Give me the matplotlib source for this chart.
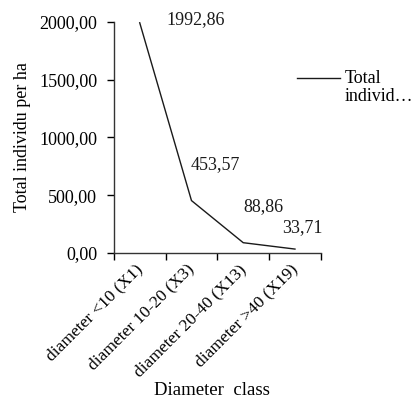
import matplotlib
matplotlib.use("Agg")
import matplotlib.pyplot as plt
from matplotlib.ticker import FixedLocator, NullFormatter
from matplotlib.legend_handler import HandlerLine2D
from matplotlib.transforms import ScaledTranslation

plt.rcParams['font.family'] = ['Liberation Serif', 'DejaVu Serif']

categories = ["diameter <10 (X1)", "diameter 10-20 (X3)", "diameter 20-40 (X13)", "diameter >40 (X19)"]
values = [1992.86, 453.57, 88.86, 33.71]
value_labels = ["1992,86", "453,57", "88,86", "33,71"]
yticks = [0, 500, 1000, 1500, 2000]
ytick_labels = ["0,00", "500,00", "1000,00", "1500,00", "2000,00"]
label_offsets = [(56, 3), (24, 36), (20, 36), (7, 21)]

FS = 13


class TopLineHandler(HandlerLine2D):
    def create_artists(self, legend, orig_handle, xdescent, ydescent,
                       width, height, fontsize, trans):
        arts = super().create_artists(legend, orig_handle, xdescent, ydescent,
                                      width, height, fontsize, trans)
        for a in arts:
            a.set_ydata([y + 0.55 * fontsize for y in a.get_ydata()])
        return arts


fig = plt.figure(figsize=(4.14, 3.99), dpi=100)
ax = fig.add_axes([0.275, 0.366, 0.5, 0.579])
x = list(range(len(categories)))
line, = ax.plot(x, values, color='#1a1a1a', lw=1.0, label='Total\nindivid…')

for xi, v, lab, off in zip(x, values, value_labels, label_offsets):
    ax.annotate(lab, (xi, v), xytext=off, textcoords='offset pixels',
                ha='center', va='center', fontsize=FS, color='#1a1a1a')

ax.set_xlim(-0.5, 3.5)
ax.set_ylim(0, 2000)
ax.set_yticks(yticks)
ax.set_yticklabels(ytick_labels, fontsize=FS)
ax.set_xticks(x)
ax.set_xticklabels(categories, rotation=45, ha='right', rotation_mode='anchor', fontsize=12.5)
ax.tick_params(axis='x', which='major', length=0, pad=6)
shift = ScaledTranslation(-5 / 100, 0, fig.dpi_scale_trans)
for t in ax.get_xticklabels():
    t.set_transform(t.get_transform() + shift)
ax.xaxis.set_minor_locator(FixedLocator([-0.5, 0.5, 1.5, 2.5, 3.5]))
ax.xaxis.set_minor_formatter(NullFormatter())
ax.tick_params(axis='x', which='minor', length=5, width=1, direction='out')
ax.tick_params(axis='y', length=5, width=1, direction='out', pad=7)
for s in ['top', 'right']:
    ax.spines[s].set_visible(False)
for s in ['left', 'bottom']:
    ax.spines[s].set_linewidth(1)
    ax.spines[s].set_color('#333333')

ax.set_ylabel("Total individu per ha", fontsize=FS, labelpad=6)
ax.set_xlabel("Diameter  class", fontsize=13.5)
ax.xaxis.set_label_coords(0.473, -0.558)

leg = fig.legend(handles=[line], loc='upper left', bbox_to_anchor=(0.677, 0.865),
                 frameon=False, fontsize=FS, handlelength=2.4, handletextpad=0.25,
                 handler_map={line: TopLineHandler()})
leg.get_texts()[0].set_linespacing(1.1)

fig.savefig("out.png", dpi=100)
